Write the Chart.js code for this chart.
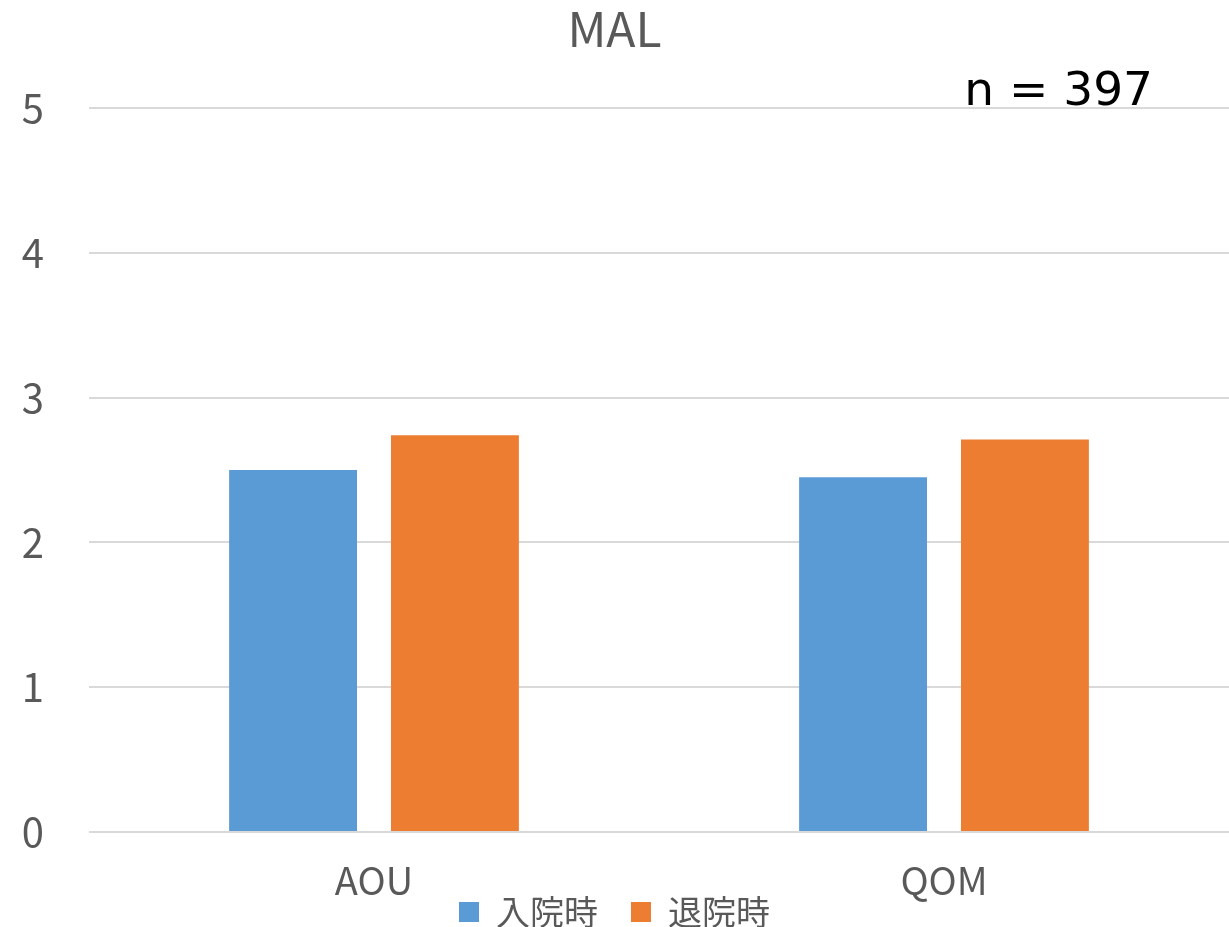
<!DOCTYPE html>
<html>
<head>
<meta charset="utf-8">
<script src="https://cdn.jsdelivr.net/npm/chart.js@4/dist/chart.umd.min.js"></script>
<style>
html,body{margin:0;padding:0;background:#fff;}
#wrap{width:1229px;height:927px;position:relative;}
</style>
</head>
<body>
<div id="wrap"><canvas id="c" width="1229" height="927"></canvas></div>
<script>
const categories = ["AOU", "QOM"];
const admissionValues = [2.50, 2.45];
const dischargeValues = [2.74, 2.71];
const seriesNames = ["入院時", "退院時"];
const yTicks = [0, 1, 2, 3, 4, 5];
const chartTitle = "MAL";
const nLabel = "n = 397";

const FONT = "'Noto Sans CJK JP', 'Noto Sans', sans-serif";
const GREY = "#595959";

const nPlugin = {
  id: 'nLabel',
  afterLayout(chart) {
    // let x-axis labels extend into the legend band (no clipping)
    const xs = chart.scales.x;
    if (xs) { xs.bottom = chart.height; }
  },
  afterDraw(chart) {
    const ctx = chart.ctx;
    ctx.save();
    ctx.font = "47px 'DejaVu Sans', sans-serif";
    ctx.fillStyle = "#000000";
    ctx.textAlign = "right";
    ctx.textBaseline = "alphabetic";
    ctx.fillText(nLabel, 1153, 105);
    ctx.restore();
  }
};

new Chart(document.getElementById('c'), {
  type: 'bar',
  data: {
    labels: categories,
    datasets: [
      { label: seriesNames[0], data: admissionValues, backgroundColor: '#5B9BD5', categoryPercentage: 0.568, barPercentage: 0.79 },
      { label: seriesNames[1], data: dischargeValues, backgroundColor: '#ED7D31', categoryPercentage: 0.568, barPercentage: 0.79 }
    ]
  },
  options: {
    responsive: false,
    animation: false,
    layout: { padding: { left: 0, right: 0, top: 0, bottom: -12 } },
    plugins: {
      title: {
        display: true,
        text: chartTitle,
        color: GREY,
        font: { family: FONT, size: 48, weight: 'normal', lineHeight: 1.2 },
        padding: { top: 0, bottom: 50.4 }
      },
      legend: {
        position: 'bottom',
        labels: {
          color: GREY,
          font: { family: FONT, size: 34 },
          boxWidth: 20,
          boxHeight: 20,
          padding: 33
        }
      },
      tooltip: { enabled: false }
    },
    scales: {
      x: {
        grid: { display: false, drawTicks: false },
        border: { display: false },
        ticks: { color: GREY, font: { family: FONT, size: 38, lineHeight: 1 }, padding: 30 },
        afterFit(scale) { scale.height = 30; }
      },
      y: {
        min: 0,
        max: 5,
        afterBuildTicks(scale) { scale.ticks = yTicks.map(v => ({ value: v })); },
        grid: { color: '#d9d9d9', lineWidth: 2, drawTicks: false },
        border: { display: false },
        ticks: { color: GREY, font: { family: FONT, size: 40 }, padding: 45 },
        afterFit(scale) { scale.width = 89; }
      }
    }
  },
  plugins: [nPlugin]
});
</script>
</body>
</html>
